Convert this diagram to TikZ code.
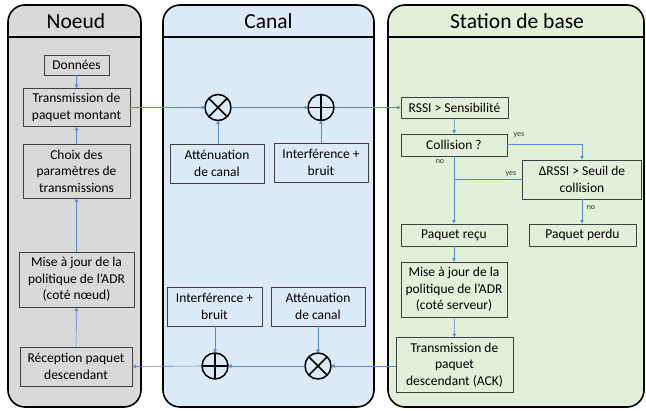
\documentclass[tikz,border=0pt]{standalone}
\usepackage{fontspec}
\setmainfont{Carlito}
\usetikzlibrary{arrows.meta,calc}

\definecolor{noeudfill}{HTML}{D9D9D9}
\definecolor{canalfill}{HTML}{DCE9F6}
\definecolor{stationfill}{HTML}{E2F0D9}
\definecolor{boxgray}{HTML}{404040}
\definecolor{linkblue}{HTML}{5A8AD6}

\begin{document}
\begin{tikzpicture}[x=1pt,y=-1pt,
  panel/.style={draw=black, line width=1.6pt, rounded corners=17pt, inner sep=0pt},
  heading/.style={font=\fontsize{21.5}{25}\selectfont, inner sep=0pt},
  blk/.style={draw=boxgray, line width=0.8pt, align=center, inner sep=0pt,
    font=\fontsize{13.5}{16.5}\selectfont, text=black},
  wh/.style 2 args={minimum width=#1pt, minimum height=#2pt},
  op/.style={circle, draw=black, line width=1.5pt, minimum size=26pt,
    inner sep=0pt, outer sep=0pt},
  lnk/.style={draw=linkblue, line width=0.6pt,
    -{Triangle[length=3.5pt,width=3.5pt]}},
  plainlnk/.style={draw=linkblue, line width=0.6pt},
  tag/.style={font=\fontsize{8}{9}\selectfont, inner sep=0pt, text=black!80},
]
\useasboundingbox[fill=white] (0,0) rectangle (646,411);

% ---------- swim lanes ----------
\node[panel, fill=noeudfill, wh={133}{402}] (noeudp) at (74.5,206) {};
\node[panel, fill=canalfill, wh={211}{402}] (canalp) at (268.5,206) {};
\node[panel, fill=stationfill, wh={256}{402}] (stationp) at (516,206) {};
\foreach \p in {noeudp,canalp,stationp}
  \draw[line width=1.6pt] (\p.west |- 0,37) -- (\p.east |- 0,37);
\node[heading] (noeudt) at (76,21) {Noeud};
\node[heading] (canalt) at (268.5,21) {Canal};
\node[heading] (stationt) at (517,21) {Station de base};

% ---------- node side ----------
\node[blk, wh={65}{20}] (donnees) at (76.5,65) {Données};
\node[blk, wh={107}{38}] (txup) at (76.5,107.5) {Transmission de\\paquet montant};
\node[blk, wh={107}{54}] (choix) at (76.5,171) {Choix des\\paramètres de\\transmissions};
\node[blk, wh={115}{55}] (majn) at (76.5,279.5) {Mise à jour de la\\politique de l’ADR\\(coté nœud)};
\node[blk, wh={112}{39}] (recep) at (76,366.5) {Réception paquet\\descendant};

% ---------- channel ----------
\node[op] (mul1) at (218,107.5) {};
\node[op] (add1) at (321,107.5) {};
\node[blk, wh={94}{39}] (att1) at (217,163.5) {Atténuation\\de canal};
\node[blk, wh={94}{39}] (intf1) at (321,162.5) {Interférence +\\bruit};
\node[blk, wh={95}{39}] (intf2) at (214.5,306.5) {Interférence +\\bruit};
\node[blk, wh={94}{39}] (att2) at (318,306.5) {Atténuation\\de canal};
\node[op] (add2) at (215,366) {};
\node[op] (mul2) at (318,366) {};
\foreach \m in {mul1,mul2}
  \draw[line width=1.5pt] (\m.north west) -- (\m.south east)
                          (\m.north east) -- (\m.south west);
\foreach \a in {add1,add2}
  \draw[line width=1.5pt] (\a.north) -- (\a.south) (\a.west) -- (\a.east);

% ---------- base station ----------
\node[blk, wh={107}{21}] (rssi) at (454.5,107.5) {RSSI > Sensibilité};
\node[blk, wh={106}{22}] (coll) at (454,145) {Collision ?};
\node[blk, wh={119}{39}] (drssi) at (582,179.5) {ΔRSSI > Seuil de\\collision};
\node[blk, wh={106}{22}] (recu) at (454,235) {Paquet reçu};
\node[blk, wh={107}{22}] (perdu) at (582.5,235) {Paquet perdu};
\node[blk, wh={106}{55}] (majs) at (454,289.5) {Mise à jour de la\\politique de l’ADR\\(coté serveur)};
\node[blk, wh={117}{55}] (txack) at (454.5,365) {Transmission de\\paquet\\descendant (ACK)};

% ---------- links: uplink ----------
\draw[lnk] (donnees) -- (txup);
\draw[lnk] (choix) -- (txup);
\draw[lnk] (majn) -- (choix);
\draw[lnk] (recep) -- (majn);
\draw[lnk] (txup.east) -- (mul1.west);
\draw[lnk] (att1.north -| mul1) -- (mul1.south);
\draw[lnk] (mul1.east) -- (add1.west);
\draw[lnk] (intf1.north -| add1) -- (add1.south);
\draw[lnk] (add1.east) -- (rssi.west);

% ---------- links: decision ----------
\draw[lnk] (rssi) -- (coll);
\draw[lnk] (coll.east |- 0,144) -| (drssi.north);
\draw[lnk] (coll) -- (recu);
\draw[plainlnk] (drssi.west) -- (drssi.west -| coll.south);
\draw[lnk] (drssi.south) -- (drssi.south |- perdu.north);
\draw[lnk] (recu) -- (majs);
\draw[lnk] (majs) -- (txack);
\node[tag] (yes1) at (519,135) {yes};
\node[tag] (no1) at (440,162) {no};
\node[tag] (yes2) at (511,174) {yes};
\node[tag] (no2) at (591,208) {no};

% ---------- links: downlink ----------
\draw[lnk] (txack.west |- mul2) -- (mul2.east);
\draw[lnk] (att2.south -| mul2) -- (mul2.north);
\draw[lnk] (mul2.west) -- (add2.east);
\draw[lnk] (intf2.south -| add2) -- (add2.north);
\draw[lnk] (add2.west) -- (recep.east);
\end{tikzpicture}
\end{document}
